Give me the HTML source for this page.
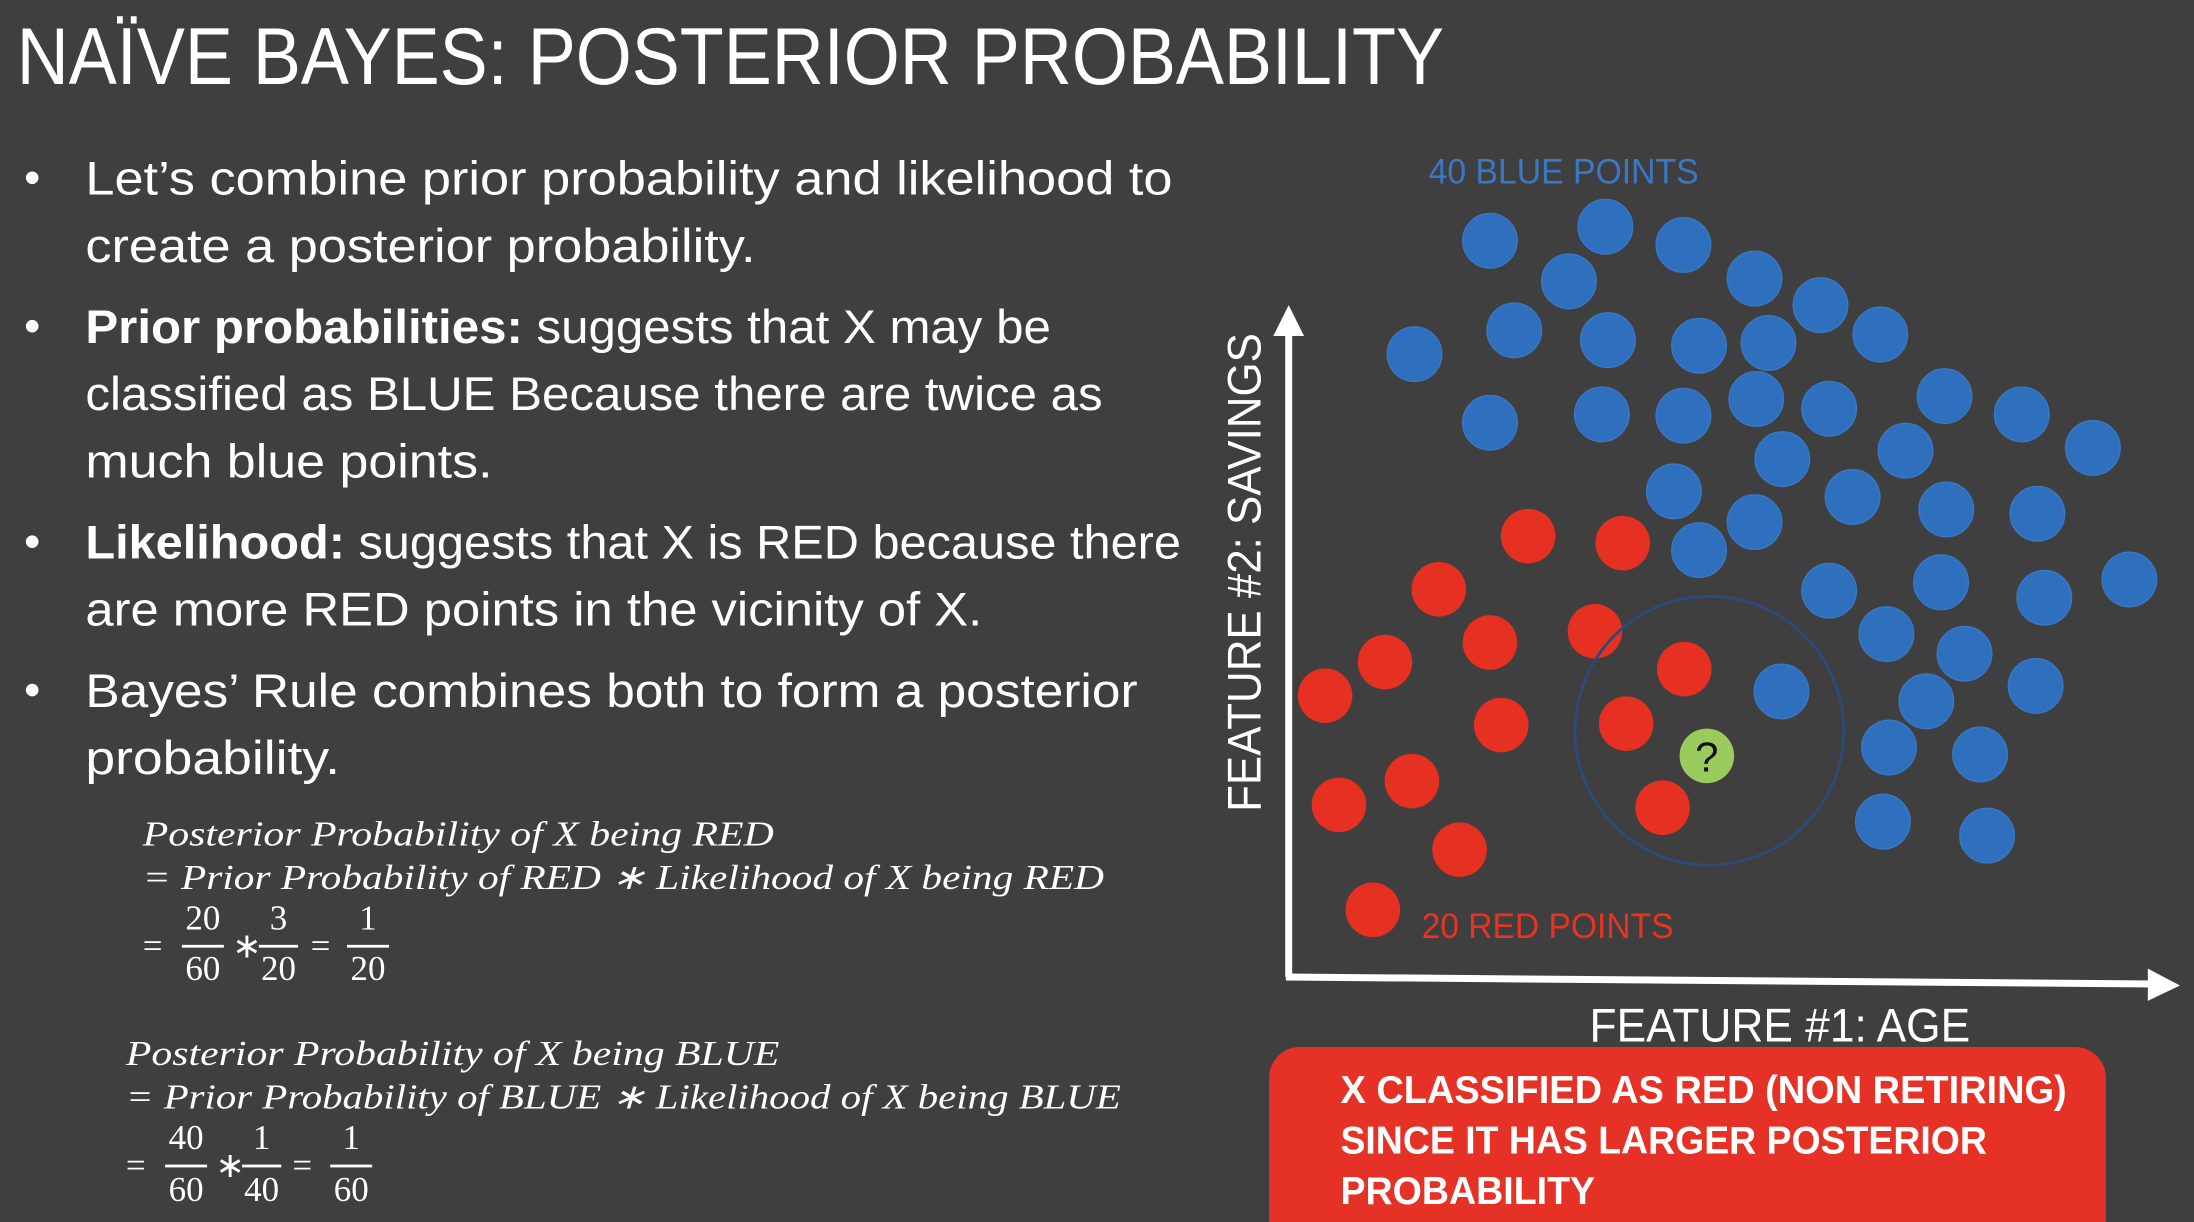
<!DOCTYPE html>
<html><head><meta charset="utf-8"><style>
html,body{margin:0;padding:0;background:#3f3f3f;overflow:hidden}
svg{display:block}
.t{font-family:"Liberation Sans",sans-serif;fill:#fff}
.f{font-family:"Liberation Serif",serif;font-style:italic;fill:#fff;font-size:25px}
.n{font-family:"Liberation Serif",serif;fill:#fff;font-size:25px}
</style></head><body>
<svg id="slide" width="2194" height="1222" viewBox="0 0 1568 873" preserveAspectRatio="none" xmlns="http://www.w3.org/2000/svg">
<rect width="1568" height="873" fill="#3f3f3f"/>
<text class="t" x="12" y="60" font-size="58" textLength="1020" lengthAdjust="spacingAndGlyphs">NAÏVE BAYES: POSTERIOR PROBABILITY</text>

<g class="t" font-size="34">
<circle cx="23" cy="127" r="4.5" fill="#fff"/>
<circle cx="23" cy="233" r="4.5" fill="#fff"/>
<circle cx="23" cy="387" r="4.5" fill="#fff"/>
<circle cx="23" cy="493" r="4.5" fill="#fff"/>
<text x="61" y="139" textLength="777" lengthAdjust="spacingAndGlyphs">Let’s combine prior probability and likelihood to</text>
<text x="61" y="187" textLength="479" lengthAdjust="spacingAndGlyphs">create a posterior probability.</text>
<text x="61" y="245" textLength="690" lengthAdjust="spacingAndGlyphs"><tspan font-weight="bold">Prior probabilities:</tspan> suggests that X may be</text>
<text x="61" y="293" textLength="727" lengthAdjust="spacingAndGlyphs">classified as BLUE Because there are twice as</text>
<text x="61" y="341" textLength="291" lengthAdjust="spacingAndGlyphs">much blue points.</text>
<text x="61" y="399" textLength="783" lengthAdjust="spacingAndGlyphs"><tspan font-weight="bold">Likelihood:</tspan> suggests that X is RED because there</text>
<text x="61" y="447" textLength="641" lengthAdjust="spacingAndGlyphs">are more RED points in the vicinity of X.</text>
<text x="61" y="505" textLength="752" lengthAdjust="spacingAndGlyphs">Bayes’ Rule combines both to form a posterior</text>
<text x="61" y="553" textLength="182" lengthAdjust="spacingAndGlyphs">probability.</text>
</g>

<g>
<text class="f" x="102" y="604" textLength="451" lengthAdjust="spacingAndGlyphs">Posterior Probability of X being RED</text>
<text class="f" x="102" y="635" textLength="687" lengthAdjust="spacingAndGlyphs">=  Prior Probability of RED  ∗ Likelihood of X being RED</text>
<text class="n" x="102" y="684">=</text>
<text class="n" x="145" y="664" text-anchor="middle">20</text><rect x="130" y="675" width="30" height="2" fill="#fff"/><text class="n" x="145" y="700" text-anchor="middle">60</text>
<text class="n" x="166" y="684">∗</text>
<text class="n" x="199" y="664" text-anchor="middle">3</text><rect x="185" y="675" width="28" height="2" fill="#fff"/><text class="n" x="199" y="700" text-anchor="middle">20</text>
<text class="n" x="222" y="684">=</text>
<text class="n" x="263" y="664" text-anchor="middle">1</text><rect x="248" y="675" width="30" height="2" fill="#fff"/><text class="n" x="263" y="700" text-anchor="middle">20</text>
</g>
<g>
<text class="f" x="90" y="761" textLength="467" lengthAdjust="spacingAndGlyphs">Posterior Probability of X being BLUE</text>
<text class="f" x="90" y="792" textLength="711" lengthAdjust="spacingAndGlyphs">=  Prior Probability of BLUE ∗ Likelihood of X being BLUE</text>
<text class="n" x="90" y="841">=</text>
<text class="n" x="133" y="821" text-anchor="middle">40</text><rect x="118" y="832" width="30" height="2" fill="#fff"/><text class="n" x="133" y="858" text-anchor="middle">60</text>
<text class="n" x="154" y="841">∗</text>
<text class="n" x="187" y="821" text-anchor="middle">1</text><rect x="173" y="832" width="28" height="2" fill="#fff"/><text class="n" x="187" y="858" text-anchor="middle">40</text>
<text class="n" x="209" y="841">=</text>
<text class="n" x="251" y="821" text-anchor="middle">1</text><rect x="236" y="832" width="30" height="2" fill="#fff"/><text class="n" x="251" y="858" text-anchor="middle">60</text>
</g>

<g id="chart"></g>

<text class="t" x="1136" y="744" font-size="34" textLength="272" lengthAdjust="spacingAndGlyphs">FEATURE #1: AGE</text>
<text class="t" transform="translate(901,580) rotate(-90)" font-size="34" textLength="342" lengthAdjust="spacingAndGlyphs">FEATURE #2: SAVINGS</text>
<text x="1021" y="131" font-family="Liberation Sans,sans-serif" font-size="25" fill="#3a78c4" textLength="193" lengthAdjust="spacingAndGlyphs">40 BLUE POINTS</text>
<text x="1016" y="670" font-family="Liberation Sans,sans-serif" font-size="25" fill="#e83323" textLength="180" lengthAdjust="spacingAndGlyphs">20 RED POINTS</text>

<g>
<rect x="907" y="748" width="598" height="145" rx="22" fill="#e63226"/>
<g class="t" font-size="28" font-weight="bold">
<text x="958" y="788" textLength="519" lengthAdjust="spacingAndGlyphs">X CLASSIFIED AS RED (NON RETIRING)</text>
<text x="958" y="824" textLength="462" lengthAdjust="spacingAndGlyphs">SINCE IT HAS LARGER POSTERIOR</text>
<text x="958" y="860" textLength="182" lengthAdjust="spacingAndGlyphs">PROBABILITY</text>
</g></g>
</svg>
<script>
const blueAge=[23.2,36.5,45.5,32.3,53.7,61.3,68.2,14.5,26,36.8,47.3,55.3,23.2,36.1,45.5,53.9,62.3,75.6,84.5,92.7,56.9,71.1,44.4,65,75.8,86.3,47.3,53.7,62.3,75.2,87.1,96.9,68.9,77.9,56.8,73.5,86.1,69.2,79.7,68.5,80.5];
const blueSavings=[105.2,107.2,104.6,99.4,99.8,96,91.8,89,92.4,91,90.2,90.6,79.2,80.4,80.2,82.6,81.2,83,80.4,75.6,74,75.2,69.4,68.6,66.8,66.2,61,65,55.2,56.4,54.2,56.8,49,46.2,40.8,39.4,41.6,32.8,31.8,22.2,20.2];
const redAge=[27.6,38.5,17.3,23.2,35.3,11.1,4.2,45.6,24.5,38.9,14.2,5.8,43.1,19.7,9.7];
const redSavings=[63,62,55.4,47.8,49.4,45,40.2,44,36,36.2,28,24.6,24.2,18.2,9.6];
const queryPoint=[48.2,31.6];
const neighborhood=[48.5,35.2];
const ox=921, oy=698;
function xs(v){return ox+v*6.2;}
function ys(v){return oy-v*5;}
const NS="http://www.w3.org/2000/svg";
const g=document.getElementById('chart');
function mk(t,a){const e=document.createElementNS(NS,t);for(const k in a)e.setAttribute(k,a[k]);g.appendChild(e);return e;}
let e;
e=mk('polyline',{points:`${ox},${oy} ${ox},232`,fill:'none',stroke:'#fff','stroke-width':5});


e=mk('polygon',{points:`${ox-11},240 ${ox},218 ${ox+11},240`,fill:'#fff'});


e=mk('line',{x1:ox-2,y1:oy,x2:1540,y2:703,stroke:'#fff','stroke-width':5});


e=mk('polygon',{points:`1535,692 1558,704 1535,715`,fill:'#fff'});


for(let i=0;i<blueAge.length;i++){
 e=mk('circle',{cx:xs(blueAge[i]),cy:ys(blueSavings[i]),r:19.5,fill:'#2f70be',stroke:'#3a77c2','stroke-width':1});
 
 
}
for(let i=0;i<redAge.length;i++){
 e=mk('circle',{cx:xs(redAge[i]),cy:ys(redSavings[i]),r:19.5,fill:'#e53022'});
 
 
}
e=mk('circle',{cx:xs(neighborhood[0]),cy:ys(neighborhood[1]),r:96,fill:'none',stroke:'#2c4a7c','stroke-width':2});


e=mk('circle',{cx:xs(queryPoint[0]),cy:ys(queryPoint[1]),r:19.5,fill:'#9ccb5d'});


e=mk('text',{x:xs(queryPoint[0]),y:ys(queryPoint[1])+11,'text-anchor':'middle','font-family':'Liberation Sans,sans-serif','font-size':30,fill:'#111'});
e.textContent='?';


</script>
</body></html>
